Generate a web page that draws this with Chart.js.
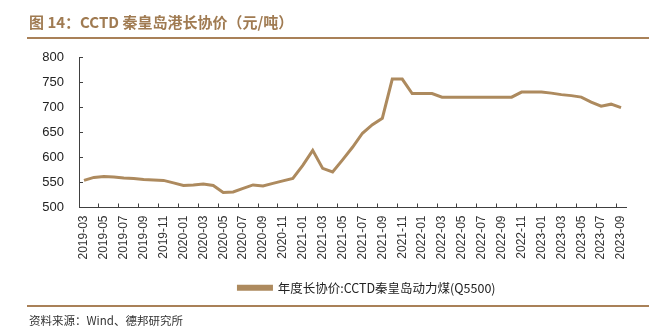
<!DOCTYPE html>
<html><head><meta charset="utf-8">
<script src="https://cdn.jsdelivr.net/npm/chart.js@4.4.0/dist/chart.umd.min.js"></script>
<style>
html,body{margin:0;padding:0;background:#fff;}
#wrap{position:relative;width:661px;height:329px;overflow:hidden;}
#c{position:absolute;left:0;top:0;}
#title{position:absolute;left:29px;top:12px;font:bold 15px "Noto Sans CJK SC","Liberation Sans",sans-serif;color:#a07b52;white-space:nowrap;line-height:20px;}
.rule{position:absolute;left:27px;width:622px;height:2px;background:#a98158;}
#src{position:absolute;left:29px;top:312px;font:11.5px "Noto Sans CJK SC","Liberation Sans",sans-serif;color:#333;white-space:nowrap;line-height:16px;}
</style></head>
<body><div id="wrap">
<canvas id="c" width="661" height="329"></canvas>
<div id="title">图 14：CCTD 秦皇岛港长协价（元/吨）</div>
<div class="rule" style="top:37px"></div>
<div class="rule" style="top:305px"></div>
<div id="src">资料来源：Wind、德邦研究所</div>
</div>
<script>
const months = ["2019-03","2019-04","2019-05","2019-06","2019-07","2019-08","2019-09","2019-10","2019-11","2019-12",
"2020-01","2020-02","2020-03","2020-04","2020-05","2020-06","2020-07","2020-08","2020-09","2020-10","2020-11","2020-12",
"2021-01","2021-02","2021-03","2021-04","2021-05","2021-06","2021-07","2021-08","2021-09","2021-10","2021-11","2021-12",
"2022-01","2022-02","2022-03","2022-04","2022-05","2022-06","2022-07","2022-08","2022-09","2022-10","2022-11","2022-12",
"2023-01","2023-02","2023-03","2023-04","2023-05","2023-06","2023-07","2023-08","2023-09"];
const contractPrice = [554,560,562,561,559,558,556,555,554,549,
544,545,547,544,530,531,538,545,543,548,553,558,
584,614,578,571,595,620,648,665,678,756,756,727,
727,727,720,720,720,720,720,720,720,720,730,730,
730,728,725,723,720,710,702,706,699];
const seriesName = "年度长协价:CCTD秦皇岛动力煤(Q5500)";
const yTicks = [500,550,600,650,700,750,800];
const lineColor = "#ad8a5e";
const axisColor = "#404040";

const legendShift = {
  id: 'legendShift',
  afterLayout(chart) { if (chart.legend) { chart.legend.left += 54; chart.legend.right += 54; } }
};

new Chart(document.getElementById('c'), {
  type: 'line',
  data: { labels: months, datasets: [{ label: seriesName, data: contractPrice, borderColor: lineColor, backgroundColor: lineColor, borderWidth: 3, pointRadius: 0, tension: 0 }] },
  plugins: [legendShift],
  options: {
    responsive: false, animation: false,
    layout: { padding: { top: 57, right: 35, left: 0, bottom: 25 } },
    plugins: {
      tooltip: { enabled: false },
      legend: { position: 'bottom', labels: { boxWidth: 33, boxHeight: 3, color: '#222', font: { family: '"Noto Sans CJK SC","Liberation Sans",sans-serif', size: 12.5 }, padding: 12 } }
    },
    scales: {
      x: {
        offset: true,
        afterFit: s => { s.height = 62; },
        grid: { offset: true, drawOnChartArea: false, tickLength: -4, color: c => (c.index % 2 === 0 ? axisColor : 'rgba(0,0,0,0)') },
        border: { color: axisColor, width: 1 },
        ticks: { autoSkip: false, minRotation: 90, maxRotation: 90, padding: 12, color: '#333', font: { family: '"Liberation Sans",Arial,sans-serif', size: 12 },
          callback: function(v, i) { return i % 2 === 0 ? this.getLabelForValue(v) : ''; } }
      },
      y: {
        min: 500, max: 800,
        afterFit: s => { s.width = 79; },
        afterBuildTicks: s => { s.ticks = yTicks.map(v => ({ value: v })); },
        grid: { drawOnChartArea: false, tickLength: -4, color: axisColor },
        border: { color: axisColor, width: 1 },
        ticks: { padding: 19, color: '#222', font: { family: '"Liberation Sans",Arial,sans-serif', size: 13 } }
      }
    }
  }
});
</script>
</body></html>
